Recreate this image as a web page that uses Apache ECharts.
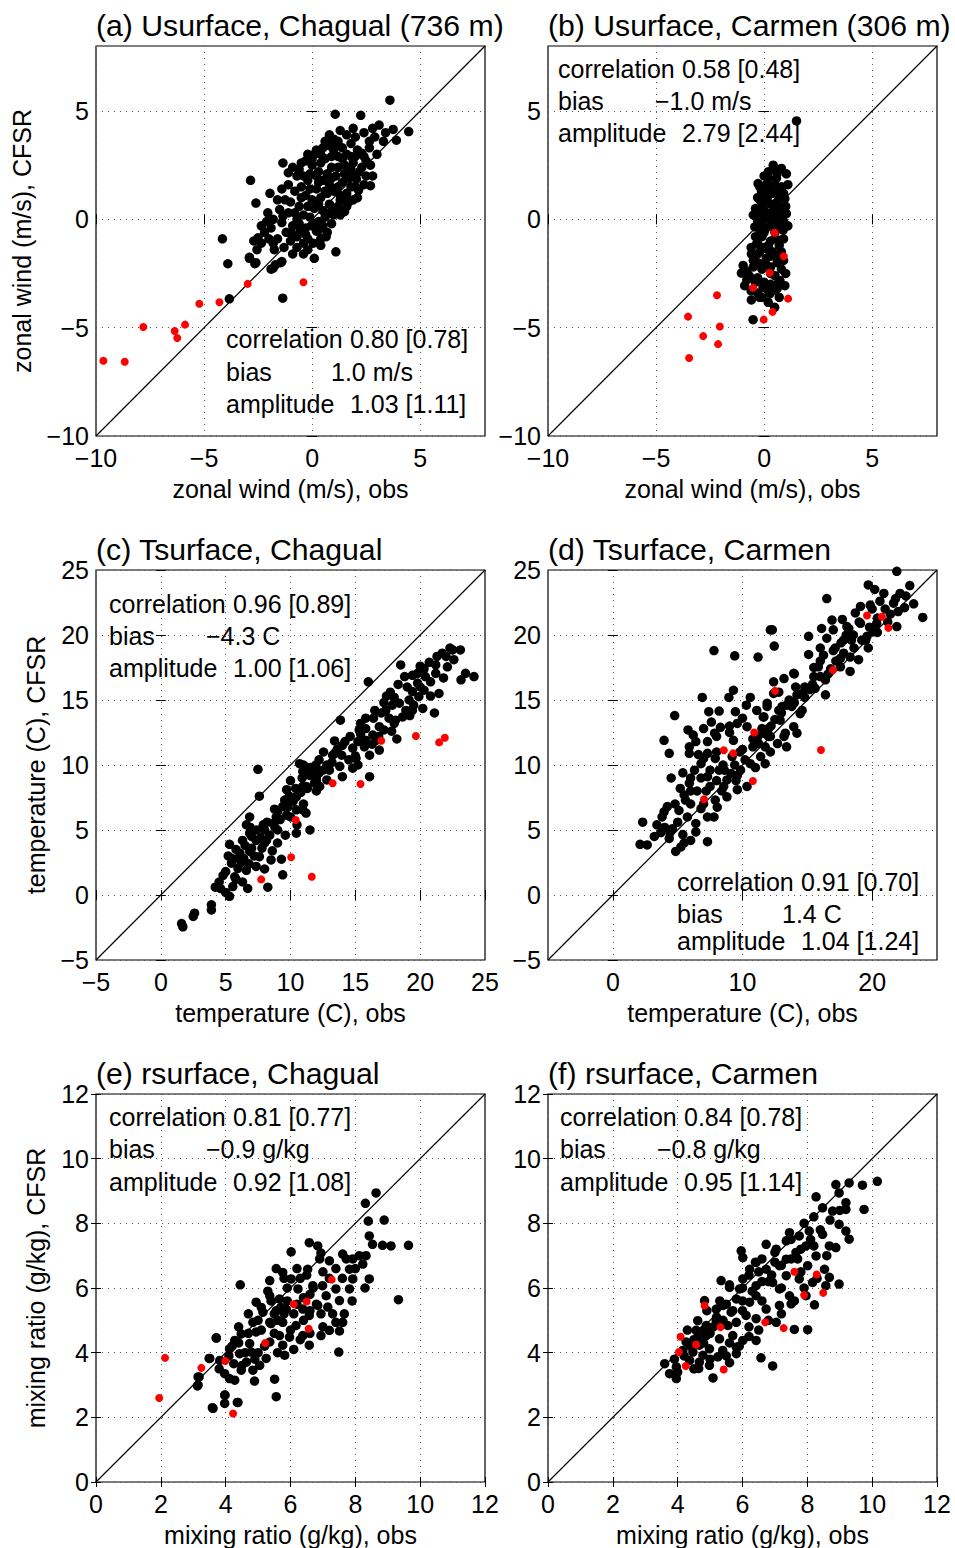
<!DOCTYPE html>
<html><head><meta charset="utf-8">
<script src="https://cdn.jsdelivr.net/npm/echarts@6/dist/echarts.min.js"></script>
<style>html,body{margin:0;padding:0;background:#fff}#c{width:955px;height:1548px}</style>
</head><body><div id="c"></div>
<script>
// ---------------- data ----------------
const panelTitles = ['(a) Usurface, Chagual (736 m)','(b) Usurface, Carmen (306 m)','(c) Tsurface, Chagual','(d) Tsurface, Carmen','(e) rsurface, Chagual','(f) rsurface, Carmen'];
const xNames = ['zonal wind (m/s), obs','zonal wind (m/s), obs','temperature (C), obs','temperature (C), obs','mixing ratio (g/kg), obs','mixing ratio (g/kg), obs'];
const yNames = ['zonal wind (m/s), CFSR','','temperature (C), CFSR','','mixing ratio (g/kg), CFSR',''];
const corrText = ['0.80 [0.78]','0.58 [0.48]','0.96 [0.89]','0.91 [0.70]','0.81 [0.77]','0.84 [0.78]'];
const biasText = ['1.0 m/s','\u22121.0 m/s','\u22124.3 C','1.4 C','\u22120.9 g/kg','\u22120.8 g/kg'];
const ampText = ['1.03 [1.11]','2.79 [2.44]','1.00 [1.06]','1.04 [1.24]','0.92 [1.08]','0.95 [1.14]'];

const uRange = [-10, 8];
const uTicks = [-10, -5, 0, 5];
const tRange = [-5, 25];
const tTicks = [-5, 0, 5, 10, 15, 20, 25];
const tTicksD = [0, 10, 20];
const rRange = [0, 12];
const rTicks = [0, 2, 4, 6, 8, 10, 12];

const aBlack = [[3.6,5.5],[1.07,4.85],[2.25,4.8],[4.47,4.05],[3.75,4.15],[3.1,4.35],[2.8,4.2],[2.4,4.0],[3.9,3.65],[2.65,3.6],[0.8,3.9],[0.6,3.6],[1.05,3.5],[-1.35,2.6],[-0.2,3.0],[0.1,3.0],[-2.85,1.8],[-1.95,1.2],[-2.6,0.75],[-1.1,2.15],[-0.7,2.0],[-1.4,1.4],[-1.25,0.9],[-1.5,0.45],[-2.05,0.3],[-2.1,-0.1],[-2.35,-0.3],[-1.4,-0.15],[-1.35,0.15],[-4.15,-0.9],[-2.5,-0.85],[-2.7,-1.0],[-2.35,-1.1],[-2.55,-1.4],[-2.9,-1.8],[-2.65,-2.05],[-3.9,-2.05],[-1.8,-1.1],[-1.75,-1.4],[-1.9,-2.3],[-1.7,-2.1],[-1.4,-1.95],[-1.36,-3.64],[-3.83,-3.67],[-0.9,-0.3],[-0.95,-0.65],[-0.7,-0.8],[-0.55,-0.5],[-0.4,-1.1],[-0.2,-1.4],[0.1,-1.8],[0.05,-1.1],[0.2,-0.55],[0.65,-0.8],[1.1,-1.5],[1.5,0.35],[2.15,1.35],[2.7,1.55],[2.8,2.0],[2.05,1.85],[2.5,2.7],[2.3,3.05],[2.65,3.3],[1.6,0.6],[1.1,0.5],[-2.9,-1.75],[-2.6,-2.0],[-1.8,-2.25],[-1.45,-2.0],
[0.0,2.5],[0.3,2.2],[0.6,2.8],[0.9,2.4],[1.2,2.9],[1.5,2.5],[1.8,2.3],[2.0,2.9],[1.0,3.2],[1.4,3.3],[0.5,1.8],[0.8,1.6],[1.1,2.0],[1.4,1.7],[1.7,1.9],[2.0,1.5],[0.2,1.4],[-0.2,1.8],[-0.5,1.5],[-0.3,1.1],[0.0,0.9],[0.4,1.0],[0.7,1.2],[1.0,1.3],[1.3,1.1],[1.6,1.2],[1.9,0.9],[0.1,0.5],[0.5,0.4],[0.8,0.7],[1.2,0.6],[-0.6,0.6],[-0.4,0.2],[-0.1,0.1],[0.3,-0.1],[0.6,0.1],[0.9,-0.2],[-0.8,0.3],[-1.0,0.8],[-0.8,1.3],[-0.9,2.4],[-0.6,2.3],[-0.3,2.7],[0.2,3.2],[0.8,3.4],[1.2,3.6],[1.8,3.5],[2.1,3.2],[2.3,2.4],[2.5,2.0],[1.9,2.6],[1.6,3.0],[0.4,2.6],[-0.1,2.1],[1.5,0.9],[1.0,0.2],[-0.3,-0.4],[0.0,-0.3],[-0.6,-0.2],[0.3,-0.5],[-0.2,-0.9],[0.4,-0.9],
[-2.2,-0.6],[-1.9,-0.4],[-1.6,-0.9],[-1.2,-0.6],[-1.0,-1.0],[-0.7,-1.3],[-1.1,0.3],[-0.7,0.0],[-0.3,-0.7],[0.2,-0.2],[0.5,-0.3],[0.8,0.3],[1.3,0.2],[1.7,0.8],[2.1,1.0],[2.4,1.6],[1.8,1.5],[1.2,1.5],[0.9,1.9],[0.3,1.7],[-0.1,1.4],[-0.5,1.0],[-0.2,0.6],[0.3,0.7],[0.6,1.3],[1.5,2.1],[1.2,2.4],[0.7,2.1],[0.2,2.0],[-0.4,2.0],[0.0,2.8],[0.4,3.0],[0.9,2.9],[1.4,2.8],[1.8,2.9],[2.2,2.2],[2.7,2.5],[3.0,3.0],[2.9,3.8],[2.0,3.8],[1.6,3.9],[1.0,3.7],[0.5,3.3],[-0.5,2.6],[-1.1,1.6],[-1.6,0.9],[-1.8,0.0],[-2.0,-0.9],[-1.3,-1.3],[-0.9,-1.6],[-0.4,-1.6],[0.4,-1.2],[0.7,-0.6],[1.3,0.9],[2.0,2.0],[2.4,2.9],[3.3,3.6],[3.4,4.0],[1.9,4.2],[1.3,4.1]];
const aRed = [[-9.66,-6.53],[-8.67,-6.57],[-7.81,-4.97],[-6.36,-5.15],[-6.24,-5.48],[-5.88,-4.86],[-5.22,-3.9],[-4.29,-3.83],[-2.98,-2.98],[-0.4,-2.9]];

const bBlack = [[1.5,4.54],[0.42,2.5],[0.8,2.35],[1.03,2.1],[0.57,1.9],[0.1,1.6],[-0.12,1.25],[0.73,1.35],[0.96,0.95],[-0.2,0.9],[0.26,0.73],[0.73,0.57],[-0.05,0.26],[0.57,0.2],[1.03,0.26],[-0.43,-0.35],[-0.2,-0.66],[0.88,-0.5],[-0.35,-1.13],[0.73,-0.97],[0.11,-1.36],[-0.59,-1.59],[0.57,-1.74],[-0.2,-2.05],[-0.97,-2.13],[-1.05,-2.48],[-0.66,-2.67],[0.73,-2.82],[-0.9,-3.06],[0.96,-3.06],[-0.05,-3.13],[0.26,-3.44],[-0.59,-3.72],[-0.2,-3.6],[0.19,-3.83],[0.49,-4.06],[-0.51,-4.63],[-0.28,1.65],
[0.2,1.9],[0.5,1.6],[0.0,1.3],[0.4,1.2],[0.7,1.0],[0.1,0.9],[0.5,0.5],[-0.1,0.6],[0.3,0.3],[0.8,0.2],[0.0,0.0],[0.4,-0.1],[0.7,-0.3],[-0.3,-0.1],[0.1,-0.4],[0.5,-0.6],[-0.1,-0.8],[0.3,-1.0],[0.7,-1.2],[-0.4,-0.8],[0.0,-1.3],[0.4,-1.5],[-0.3,-1.6],[0.1,-1.8],[0.6,-2.0],[-0.5,-2.2],[-0.1,-2.3],[0.3,-2.2],[0.5,-2.6],[-0.3,-2.7],[0.0,-2.9],[0.6,-3.2],[-0.6,-3.3],[0.3,-3.0],[-0.3,-3.4],[0.9,-1.9],[0.9,-0.9],[1.0,0.6],[-0.5,0.2],[-0.6,-1.3],[-0.7,-2.6],[0.8,1.5],[0.2,2.2],[-0.2,0.3],
[0.0,2.0],[0.6,2.1],[-0.2,1.5],[0.3,1.5],[0.9,1.2],[-0.3,1.0],[0.2,1.1],[0.6,0.8],[-0.4,0.5],[0.0,0.4],[0.9,0.5],[0.2,0.1],[0.6,0.0],[-0.2,-0.3],[0.3,-0.3],[0.9,-0.1],[0.0,-0.6],[0.5,-0.9],[-0.3,-1.1],[0.2,-1.2],[0.8,-1.5],[-0.5,-1.9],[-0.2,-1.5],[0.3,-1.7],[0.8,-2.3],[-0.3,-2.0],[0.1,-2.1],[-0.8,-2.4],[0.3,-2.5],[-0.4,-2.9],[0.1,-3.2],[0.4,-3.3],[0.7,-3.6],[-0.1,-3.6],[0.6,-3.0],[-0.8,-2.8],[1.0,-2.5],[1.1,-0.3],[1.1,1.6],[0.5,2.3]];
const bRed = [[0.49,-0.62],[0.91,-1.7],[0.26,-2.47],[-0.51,-3.16],[1.11,-3.66],[-2.18,-3.5],[0.39,-4.27],[-0.02,-4.63],[-3.52,-4.49],[-2.05,-4.95],[-2.82,-5.39],[-2.13,-5.76],[-3.47,-6.4]];

const cBlack = [[7.49,9.67],[7.6,7.6],[10.7,10.1],[10.95,9.5],[11.5,9.2],[11.85,8.6],[9.7,8.1],[9.55,7.3],[10.45,7.55],[8.77,6.6],[6.85,6.0],[6.6,5.4],[7.9,5.4],[8.65,5.5],[9.7,6.15],[10.95,6.55],[11.5,5.0],[10.45,4.75],[6.85,4.75],[7.35,4.2],[8.15,4.2],[9.0,4.0],[5.3,3.9],[6.1,3.2],[6.85,3.35],[7.6,2.95],[8.5,2.7],[9.3,2.75],[5.45,2.45],[5.95,2.05],[6.6,1.9],[7.35,2.2],[9.4,1.55],[5.7,1.4],[5.55,0.65],[5.3,-0.1],[6.7,0.5],[8.25,0.6],[3.9,-0.75],[3.9,-1.15],[2.6,-1.4],[2.5,-1.65],[1.6,-2.2],[1.7,-2.45],[10.95,8.35],[11.2,6.3],[10.45,6.55],[11.95,10.0],
[18.5,17.7],[16.0,16.4],[17.4,15.3],[13.85,13.45],[15.4,13.2],[15.3,12.7],[13.4,11.85],[12.55,11.0],[13.25,10.75],[13.95,10.75],[14.8,11.3],[15.7,11.4],[15.05,10.5],[16.1,10.75],[16.85,11.15],[18.2,12.0],[13.8,9.9],[14.8,9.75],[16.1,9.1],[15.2,10.0],[11.2,9.35],[12.0,9.1],[12.8,8.85],[11.2,8.35],[12.25,8.35],[14.0,9.1],[16.85,12.95],[17.6,13.6],[17.35,14.2],[18.4,14.75],[19.15,15.0],[17.85,14.6],[19.4,15.65],[19.8,16.3],[20.4,16.8],[20.3,17.4],[21.2,17.7],[21.3,18.35],[21.2,17.05],[20.8,16.4],[20.3,15.75],[19.9,15.25],[19.5,14.6],[18.9,14.2],[18.65,13.7],[18.1,13.45],[17.2,12.7],[16.35,12.3],[16.6,11.9],[15.8,11.9],[15.4,12.4],[21.45,15.5],[21.1,14.0],[20.2,14.35],[19.8,17.05],[22.5,18.85],[23.1,18.85],[22.0,18.35],[23.5,17.05],[24.15,16.8],[23.15,16.55],[22.6,18.1],[22.1,17.55],
[4.5,1.0],[5.0,1.8],[5.5,2.8],[6.2,2.5],[6.5,3.8],[7.0,4.5],[7.8,3.6],[8.4,4.6],[8.8,5.2],[9.2,5.8],[9.8,6.8],[10.2,7.2],[10.8,7.9],[11.3,8.2],[12.0,8.0],[12.5,9.6],[13.2,10.2],[12.2,10.4],[11.5,9.8],[10.0,8.8],[9.0,6.4],[8.0,5.0],[7.2,3.0],[6.0,2.8],[5.0,0.2],[4.6,0.5],[8.6,3.4],[9.6,4.6],[10.5,5.4],[14.2,11.8],[14.5,10.4],[15.8,12.8],[16.4,13.6],[17.0,14.0],[18.0,15.2],[19.0,16.0],[20.0,16.0],[19.2,13.8],[17.8,12.6],[16.8,12.2],[13.6,11.2],[11.0,10.0],
[5.2,3.0],[5.8,3.5],[6.3,4.2],[6.9,5.2],[7.4,5.0],[7.7,4.4],[8.2,5.6],[8.9,6.0],[9.4,6.8],[9.9,7.6],[10.4,8.2],[10.9,9.0],[11.6,9.6],[12.2,9.4],[12.8,10.0],[13.4,10.9],[14.0,11.5],[14.6,12.2],[15.2,11.8],[15.8,13.6],[16.5,14.2],[17.2,14.8],[17.7,15.6],[18.3,16.2],[18.8,16.8],[19.4,16.9],[20.0,17.6],[20.7,17.9],[21.7,18.6],[22.3,19.0],[21.8,16.7],[20.8,15.3],[19.4,14.2],[18.0,13.2],[16.3,11.6],[15.0,10.7],[13.0,9.6],[12.0,8.8],[11.0,7.0],[10.0,6.0],[9.0,5.0],[8.0,4.0],[7.0,3.6],[6.4,2.8],[5.8,1.2],[6.3,1.0],[4.8,1.5],[4.2,0.6],[6.8,2.4],[8.0,2.0]];
const cRed = [[10.4,5.77],[10.05,2.9],[7.74,1.2],[11.64,1.41],[17.0,11.87],[19.67,12.23],[21.46,11.74],[21.9,12.1],[13.25,8.6],[15.4,8.54]];

const dBlack = [[7.8,18.8],[9.4,18.4],[11.2,18.3],[12.15,20.4],[6.9,15.2],[8.95,15.2],[9.3,15.75],[10.6,15.2],[10.3,14.6],[7.4,14.1],[8.2,14.15],[9.45,14.1],[9.6,13.2],[4.77,13.8],[5.8,12.7],[6.4,11.8],[5.9,11.4],[7.0,12.8],[7.85,12.45],[7.3,11.8],[9.3,11.9],[10.35,12.95],[11.65,13.7],[11.1,14.2],[11.9,14.75],[3.95,11.9],[4.35,10.9],[5.9,10.9],[6.8,10.1],[7.3,10.9],[7.9,10.5],[6.3,9.6],[4.5,9.0],[7.3,9.1],[8.2,9.6],[9.1,9.35],[9.85,9.6],[10.6,10.1],[11.4,10.65],[11.75,10.1],[5.9,8.6],[7.5,8.35],[8.55,8.35],[9.6,8.1],[10.35,8.35],[5.5,7.7],[5.6,7.3],[7.9,7.3],[8.8,7.55],[6.8,6.65],[8.05,6.75],[3.95,6.4],[3.8,6.0],[5.1,6.5],[5.75,6.0],[7.3,6.0],[7.8,6.0],[2.3,5.6],[4.6,5.1],[6.4,5.5],[3.7,4.8],[5.4,4.65],[6.4,4.85],[4.35,4.35],[2.1,3.9],[2.65,3.85],[5.5,4.0],[7.3,4.1],[4.85,3.35],[5.25,3.7],[11.25,11.65],[12.0,12.2],[11.65,12.45],[8.8,8.85],[9.2,10.65],
[21.9,24.9],[22.9,23.8],[23.9,21.35],[21.9,20.65],[16.5,22.8],[19.7,23.85],[20.2,23.5],[20.9,23.2],[22.15,23.2],[21.65,22.45],[19.85,22.3],[19.1,22.2],[18.7,21.7],[17.7,21.2],[16.9,21.15],[16.1,20.5],[17.0,20.4],[18.05,20.65],[19.1,20.9],[20.35,20.9],[20.1,20.25],[19.6,19.9],[18.55,20.0],[17.8,19.6],[17.15,19.0],[16.5,19.75],[15.1,19.9],[12.3,20.4],[12.45,19.15],[15.1,18.5],[16.25,18.45],[17.55,18.2],[18.3,18.3],[18.95,18.1],[19.7,19.0],[18.3,17.2],[17.55,17.55],[15.85,17.55],[15.5,16.8],[16.4,16.55],[16.4,15.4],[15.2,15.8],[14.6,15.5],[13.95,17.05],[13.2,16.65],[12.4,16.4],[12.4,15.5],[14.1,16.0],[13.8,14.5],[14.45,13.95],[13.05,14.5],[11.9,14.5],[11.6,13.7],[12.9,13.45],[13.95,12.95],[13.3,12.45],[12.15,12.2],[11.75,11.4],[12.7,11.65],[14.2,12.45],[13.4,11.4],[12.15,11.0],
[6,9],[7,10.5],[8,11],[8.5,10],[9,12.5],[9.8,11],[10.2,10.4],[10.8,11.4],[11.2,12.2],[12.5,13.5],[13,14],[13.6,15],[14,14.8],[14.8,16],[15.5,17.5],[16,18],[17,18.8],[17.6,19.4],[18.2,20.5],[19,21],[20,22],[21,22],[20.6,22.6],[12,12.8],[11,9.8],[9.5,8.8],[7.5,9.6],[6.5,8],[6,7],[4.8,7],[5,5.6],[4,5.2],[3.2,4.5],[8.3,12.9],[7.6,13.3],[6.2,12.3],[13.2,12.2],[14.6,14.2],[15.6,15.9],[16.8,17.4],[18.6,19],[19.5,19.6],[21.2,21],[21.8,22.8],[22.5,22.1],
[4.2,6.8],[5.2,8.2],[6.0,8.0],[6.8,9.0],[7.2,8.0],[8.0,8.8],[8.6,9.6],[9.4,10.0],[10.0,11.2],[10.8,12.0],[11.5,12.8],[12.2,13.0],[12.8,14.2],[13.4,14.6],[14.2,15.4],[14.8,15.2],[15.4,16.2],[16.0,16.8],[16.6,17.0],[17.2,18.0],[17.8,18.6],[18.4,19.6],[19.2,19.6],[19.8,20.6],[20.4,21.3],[21.4,21.6],[22.0,21.8],[10.0,13.6],[9.0,13.0],[8.0,12.2],[6.6,10.8],[5.4,9.4],[7.0,7.0],[8.4,8.0],[9.6,9.2],[4.4,4.8],[6.0,4.2],[3.4,5.4],[12.8,15.6],[14.0,17.0],[16.0,19.0],[18.0,20.0],[20.4,20.2],[22.6,23.0],[23.2,22.4]];
const dRed = [[10.9,12.5],[8.56,11.13],[9.28,10.9],[10.8,8.77],[7.03,7.36],[19.6,21.5],[20.75,21.4],[21.25,20.55],[16.97,17.3],[12.51,15.7],[16.05,11.15]];

const eBlack = [[8.64,8.94],[8.31,8.62],[8.4,8.07],[8.89,8.1],[8.43,7.61],[9.64,7.32],[9.1,7.3],[8.84,7.32],[8.53,7.35],[8.33,7.0],[6.58,7.4],[6.84,7.3],[6.94,7.08],[6.02,7.12],[6.53,6.58],[7.2,6.84],[7.61,7.05],[7.72,6.9],[7.92,6.9],[8.12,7.0],[8.23,6.74],[7.82,6.58],[7.92,6.28],[8.43,6.28],[5.56,6.6],[5.76,6.48],[6.02,6.28],[5.36,6.23],[4.45,6.1],[6.23,5.97],[6.69,6.07],[6.99,6.07],[7.4,5.97],[7.82,5.97],[5.36,5.76],[5.66,5.66],[7.1,5.76],[7.51,5.61],[9.33,5.64],[4.94,5.56],[5.15,5.25],[5.56,5.3],[5.87,5.35],[6.38,5.35],[6.84,5.46],[7.15,5.41],[7.66,5.2],[6.94,5.2],[6.58,5.15],[4.84,4.94],[5.36,4.94],[5.76,4.94],[6.17,4.84],[7.4,4.94],[7.61,4.94],[4.48,4.58],[4.94,4.64],[5.66,4.53],[5.97,4.48],[6.38,4.53],[6.94,4.53],[7.2,4.69],[7.51,4.67],[3.71,4.45],[4.28,4.38],[4.74,4.28],[5.36,4.33],[5.76,4.23],[6.58,4.23],[5.82,3.92],[7.49,4.02],[4.12,4.12],[4.43,3.97],[4.79,4.02],[5.25,3.82],[3.51,3.82],[3.82,3.76],[4.25,3.66],[4.64,3.71],[5.05,3.61],[4.48,3.46],[4.84,3.46],[3.97,3.35],[4.12,3.2],[4.28,3.15],[4.89,3.12],[5.51,3.18],[3.15,3.25],[3.15,3.0],[5.56,2.64],[3.97,2.69],[3.97,2.43],[4.38,2.46],[3.61,2.28],[3.71,4.46],[3.49,3.82],[3.18,3.25],[3.13,2.97],[3.59,2.3],[3.98,2.69],[4.36,2.46],
[5.0,5.0],[5.4,5.6],[5.8,5.2],[6.2,5.5],[6.6,5.8],[6.0,4.7],[5.5,4.6],[5.2,4.2],[4.6,4.0],[6.4,5.0],[6.8,5.5],[7.0,6.5],[5.9,6.0],[6.3,6.3],[5.6,5.0],[4.9,3.8],
[4.4,4.8],[4.7,4.6],[5.1,4.7],[5.4,4.9],[5.7,5.4],[6.1,5.2],[6.4,5.7],[6.7,6.0],[7.2,6.3],[7.4,6.6],[6.9,6.9],[6.5,6.4],[6.2,6.6],[5.8,6.3],[5.3,5.9],[5.1,5.4],[4.7,5.2],[4.4,4.3],[4.1,3.9],[3.8,3.5],[4.5,3.6],[5.0,4.0],[5.6,4.0],[6.1,4.1],[6.6,4.6],[7.0,4.8],[7.3,5.2],[7.9,5.6],[8.3,6.0],[8.0,6.6],[7.6,6.3],[6.3,4.4],[5.9,5.6],[6.6,5.3],[5.5,5.2],[4.2,4.2]];
const eRed = [[7.27,6.26],[6.1,5.5],[6.5,5.58],[6.56,4.74],[5.22,4.3],[3.99,3.74],[3.25,3.53],[4.23,2.12],[2.13,3.84],[1.95,2.6]];

const fBlack = [[10.16,9.3],[9.7,9.18],[9.29,9.25],[8.88,9.2],[8.98,8.94],[8.27,8.82],[8.47,8.48],[8.78,8.38],[9.19,8.64],[9.19,8.43],[9.75,8.43],[8.98,7.97],[9.19,7.76],[9.29,7.51],[8.06,7.76],[7.75,7.61],[7.45,7.71],[8.47,7.66],[8.68,7.3],[8.88,7.25],[7.35,7.46],[6.73,7.35],[5.96,7.15],[6.01,6.94],[6.42,6.79],[7.04,7.2],[7.96,7.3],[7.65,7.1],[8.27,6.99],[8.53,6.58],[8.01,6.69],[7.35,6.89],[7.14,6.69],[6.73,6.58],[6.22,6.58],[6.01,6.28],[5.34,6.23],[5.6,6.02],[5.91,5.97],[6.42,6.07],[6.93,6.17],[7.35,6.38],[7.75,6.28],[8.16,6.17],[8.68,6.33],[8.98,6.12],[8.57,6.07],[7.14,5.97],[7.45,5.76],[6.42,5.76],[6.22,5.56],[5.81,5.66],[5.4,5.46],[5.19,5.35],[5.65,5.25],[6.11,5.15],[6.73,5.35],[7.14,5.46],[7.5,5.51],[8.22,5.48],[7.96,5.76],[4.83,5.61],[5.19,4.99],[4.88,4.84],[5.55,4.84],[5.81,4.94],[6.42,5.05],[7.04,4.94],[7.6,4.72],[8.01,4.71],[4.62,4.99],[4.57,4.69],[4.88,4.53],[5.29,4.43],[5.7,4.53],[6.01,4.38],[6.42,4.38],[4.67,4.23],[4.98,4.12],[5.39,4.07],[5.81,4.17],[4.47,4.02],[4.78,3.92],[5.24,3.87],[5.81,3.97],[4.37,3.76],[4.67,3.71],[4.98,3.61],[6.57,3.84],[6.93,3.59],[5.6,3.69],[3.6,3.66],[3.96,3.56],[3.75,3.35],[3.96,3.2],[4.65,3.51],[5.09,3.22],[4.16,4.07],[4.26,4.33],[4.62,4.48],
[6.0,6.0],[6.5,6.5],[7.0,6.8],[5.5,5.5],[6.0,5.3],[6.6,5.6],[7.2,6.0],[5.0,4.6],[5.6,4.3],[6.2,4.8],[7.7,6.9],[8.2,7.3],[5.2,5.1],[4.8,4.3],[4.4,4.2],[6.8,6.2],[7.8,6.5],[6.4,6.8],
[4.2,3.9],[4.5,4.4],[4.8,4.7],[5.1,4.8],[5.4,5.0],[5.7,5.3],[6.0,5.6],[6.3,5.9],[6.6,6.2],[6.9,6.4],[7.2,6.7],[7.5,6.9],[7.8,7.2],[8.1,7.5],[8.4,7.8],[8.7,8.1],[9.0,8.4],[8.6,7.0],[8.3,6.3],[7.9,6.0],[7.6,5.6],[7.2,5.2],[6.8,5.0],[6.5,4.7],[6.2,4.5],[5.9,4.2],[5.5,3.9],[5.0,3.8],[4.5,3.5],[5.3,5.6],[5.6,6.1],[6.2,6.4],[6.6,6.9],[7.0,7.1],[7.5,7.5],[7.9,8.0],[8.2,8.2],[4.3,4.7],[4.9,5.3],[3.9,3.8],[4.0,3.4]];
const fRed = [[7.6,6.5],[8.29,6.42],[7.9,5.78],[8.49,5.85],[4.83,5.46],[5.32,4.79],[6.7,4.94],[7.27,4.76],[4.09,4.49],[4.57,4.25],[4.04,4.02],[4.25,3.59],[5.42,3.48]];

// ---------------- layout ----------------
const FONT = '"Liberation Sans", Arial, Helvetica, sans-serif';
const PW = 389, PH = 390;
const layout = [
  {left:96, top:46, range:uRange, xt:uTicks, yt:uTicks, yGap:62, txtX:226, txtY:[339,372,404], black:aBlack, red:aRed},
  {left:548, top:46, range:uRange, xt:uTicks, yt:uTicks, yGap:62, txtX:558, txtY:[69,101,133], black:bBlack, red:bRed},
  {left:96, top:570, range:tRange, xt:tTicks, yt:tTicks, yGap:48, txtX:109, txtY:[604,636,668], black:cBlack, red:cRed},
  {left:548, top:570, range:tRange, xt:tTicksD, yt:tTicks, yGap:48, txtX:677, txtY:[882,914,941], black:dBlack, red:dRed},
  {left:96, top:1094, range:rRange, xt:rTicks, yt:rTicks, yGap:48, txtX:109, txtY:[1117,1149,1182], black:eBlack, red:eRed},
  {left:548, top:1094, range:rRange, xt:rTicks, yt:rTicks, yGap:48, txtX:560, txtY:[1117,1149,1182], black:fBlack, red:fRed}
];

const fmt = v => String(v).replace('-', '\u2212');
const option = {animation:false, backgroundColor:'#fff', grid:[], xAxis:[], yAxis:[], series:[], graphic:[]};
const gridLine = {show:true, lineStyle:{color:'#555', width:1, type:[1,5]}};

layout.forEach((p, i) => {
  option.grid.push({left:p.left, top:p.top, width:PW, height:PH, show:true, borderColor:'#000', borderWidth:1.2, backgroundColor:'transparent'});
  const base = {type:'value', gridIndex:i, min:p.range[0], max:p.range[1], axisLine:{show:false}};
  const tick = vals => ({show:true, inside:true, length:5, lineStyle:{color:'#000', width:1}, customValues:vals});
  option.xAxis.push(Object.assign({}, base, {
    position:'bottom', axisTick:tick(p.xt),
    axisLabel:{customValues:p.xt, formatter:fmt, fontSize:25, color:'#000', fontFamily:FONT, margin:9},
    splitLine:gridLine,
    name:xNames[i], nameLocation:'middle', nameGap:40,
    nameTextStyle:{fontSize:25, color:'#000', fontFamily:FONT}
  }));
  option.xAxis.push(Object.assign({}, base, {
    position:'top', axisTick:tick(p.xt), axisLabel:{show:false}, splitLine:{show:false}
  }));
  option.yAxis.push(Object.assign({}, base, {
    position:'left', axisTick:tick(p.yt),
    axisLabel:{customValues:p.yt, formatter:fmt, fontSize:25, color:'#000', fontFamily:FONT, margin:7},
    splitLine:gridLine,
    name:yNames[i], nameLocation:'middle', nameGap:p.yGap,
    nameTextStyle:{fontSize:25, color:'#000', fontFamily:FONT}
  }));
  option.yAxis.push(Object.assign({}, base, {
    position:'right', axisTick:tick(p.yt), axisLabel:{show:false}, splitLine:{show:false}
  }));
  const xi = 2*i, yi = 2*i;
  option.series.push({type:'scatter', xAxisIndex:xi, yAxisIndex:yi, data:p.black, symbolSize:9.5,
    itemStyle:{color:'#000', opacity:1}, emphasis:{disabled:true}, silent:true, z:2});
  option.series.push({type:'line', xAxisIndex:xi, yAxisIndex:yi, data:[[p.range[0],p.range[0]],[p.range[1],p.range[1]]],
    symbol:'none', lineStyle:{color:'#000', width:1.2}, silent:true, z:3});
  option.series.push({type:'scatter', xAxisIndex:xi, yAxisIndex:yi, data:p.red, symbolSize:8,
    itemStyle:{color:'#ff0000', opacity:1}, emphasis:{disabled:true}, silent:true, z:4});

  // title
  option.graphic.push({type:'text', x:p.left, y:p.top - 21, z:10,
    style:{text:panelTitles[i], fontSize:30.2, fontFamily:FONT, fill:'#000', verticalAlign:'middle', align:'left'}});
  // stats text
  const lines = [['correlation', corrText[i], 124], ['bias', biasText[i], biasText[i].startsWith('\u2212') ? 97 : 105], ['amplitude', ampText[i], 124]];
  lines.forEach((l, k) => {
    option.graphic.push({type:'text', x:p.txtX, y:p.txtY[k], z:10,
      style:{text:l[0], fontSize:25, fontFamily:FONT, fill:'#000', verticalAlign:'middle', align:'left'}});
    option.graphic.push({type:'text', x:p.txtX + l[2], y:p.txtY[k], z:10,
      style:{text:l[1], fontSize:25, fontFamily:FONT, fill:'#000', verticalAlign:'middle', align:'left'}});
  });
});

const chart = echarts.init(document.getElementById('c'), null, {renderer:'svg', width:955, height:1548});
chart.setOption(option);
</script>
</body></html>
